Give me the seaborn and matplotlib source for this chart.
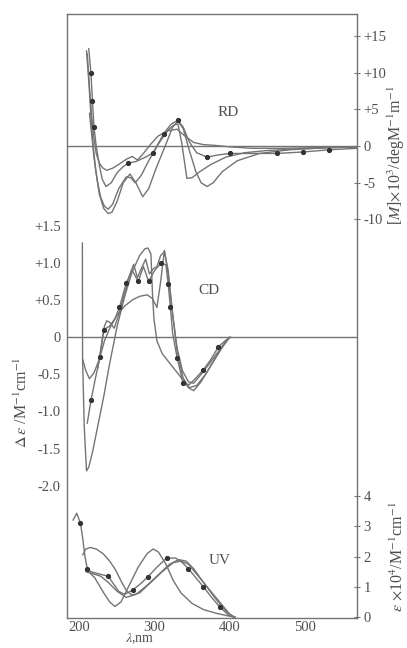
import matplotlib
matplotlib.use("Agg")
import matplotlib.pyplot as plt
import seaborn as sns

# --- RD (optical rotatory dispersion), [M] x 10^3 ---
rd_wl_a = [210, 213, 216, 219, 222, 226, 231, 236, 244, 252, 262, 270, 277, 285, 295, 305, 318, 330, 340, 352, 365, 380, 400, 430, 470, 520, 570]
rd_a = [12.6, 8.0, 4.0, 1.0, -1.0, -2.3, -3.0, -3.3, -3.0, -2.5, -1.8, -1.4, -1.9, -1.0, 0.3, 1.4, 2.1, 2.3, 1.4, 0.5, 0.2, 0.1, -0.1, -0.3, -0.3, -0.2, -0.1]

rd_wl_b = [212, 215, 217, 219, 222, 226, 230, 235, 242, 250, 258, 265, 275, 288, 298, 312, 322, 331, 338, 346, 356, 370, 385, 400, 430, 463, 498, 533, 570]
rd_b = [13.3, 9.9, 6.1, 2.6, 0.0, -2.5, -4.5, -5.5, -5.0, -3.6, -2.8, -2.3, -2.1, -1.5, -0.9, 1.7, 3.0, 3.5, 2.6, 0.6, -0.9, -1.5, -1.2, -1.0, -1.0, -1.0, -0.8, -0.5, -0.3]
rd_b_dots = [1, 2, 3, 11, 14, 15, 17, 21, 23, 25, 26, 27]

rd_wl_c = [213, 216, 219, 223, 228, 233, 238, 244, 252, 262, 268, 274, 282, 292, 305, 318, 326, 331, 336, 343, 350, 360, 375, 395, 420, 450, 490, 540, 570]
rd_c = [4.5, 1.5, -1.5, -4.5, -7.0, -8.2, -8.6, -7.9, -5.8, -4.2, -4.3, -5.0, -4.0, -2.0, 0.3, 2.2, 2.9, 3.0, 0.5, -4.4, -4.3, -3.5, -2.5, -1.5, -0.9, -0.6, -0.4, -0.2, -0.1]

rd_wl_d = [209, 212, 215, 218, 221, 226, 232, 238, 243, 250, 258, 267, 275, 284, 292, 302, 314, 324, 331, 338, 346, 355, 362, 370, 378, 390, 410, 440, 480, 530, 570]
rd_d = [13.0, 9.0, 4.0, 0.0, -3.0, -6.5, -8.5, -9.2, -9.0, -7.5, -5.0, -3.8, -5.0, -6.9, -5.8, -3.0, 0.0, 2.6, 3.4, 2.4, -0.5, -3.5, -5.0, -5.5, -5.0, -3.5, -2.0, -1.0, -0.5, -0.2, -0.1]

# --- CD, delta epsilon ---
cd_wl_a = [204, 208, 213, 219, 226, 233, 240, 250, 260, 270, 280, 290, 297, 303, 308, 313, 318, 324, 330, 337, 345, 352, 362, 375, 388, 400]
cd_a = [-0.3, -0.45, -0.56, -0.48, -0.3, -0.05, 0.12, 0.3, 0.42, 0.5, 0.55, 0.57, 0.52, 0.4, 0.75, 1.17, 0.85, 0.3, -0.15, -0.45, -0.6, -0.62, -0.5, -0.33, -0.15, 0.0]

cd_wl_b = [210, 215, 221, 227, 232, 240, 247, 253, 262, 270, 278, 285, 292, 300, 309, 315, 318, 321, 324, 330, 338, 346, 355, 365, 375, 385, 395, 402]
cd_b = [-1.16, -0.85, -0.55, -0.27, 0.1, 0.15, 0.25, 0.4, 0.73, 0.9, 0.75, 0.95, 0.75, 0.9, 1.0, 0.97, 0.72, 0.4, 0.05, -0.28, -0.62, -0.64, -0.55, -0.44, -0.3, -0.13, -0.04, 0.0]
cd_b_dots = [1, 3, 4, 7, 8, 10, 12, 14, 16, 17, 19, 20, 23, 25]

cd_wl_c = [203.5, 203.8, 206, 209, 212, 217, 224, 232, 240, 250, 260, 270, 280, 287, 291, 295, 297, 299, 303, 310, 320, 332, 345, 352, 362, 375, 388, 400]
cd_c = [1.27, -0.3, -1.2, -1.8, -1.75, -1.55, -1.2, -0.8, -0.35, 0.15, 0.55, 0.88, 1.1, 1.19, 1.2, 1.12, 0.6, 0.25, -0.05, -0.22, -0.35, -0.5, -0.68, -0.72, -0.6, -0.38, -0.17, 0.0]

cd_wl_d = [224, 229, 233, 236, 240, 246, 252, 260, 267, 272, 277, 282, 288, 293, 298, 303, 308, 313, 318, 323, 330, 338, 346, 356, 368, 380, 392, 400]
cd_d = [-0.42, -0.1, 0.15, 0.22, 0.2, 0.12, 0.3, 0.6, 0.85, 0.98, 0.8, 0.92, 1.05, 0.85, 0.92, 0.95, 1.1, 1.15, 0.9, 0.4, -0.2, -0.55, -0.68, -0.65, -0.5, -0.3, -0.1, 0.0]

# --- UV, epsilon x 10^4 ---
uv_wl_a = [191, 196, 201, 204, 207, 210, 215, 222, 230, 238, 245, 252, 260, 271, 281, 291, 303, 316, 328, 337, 345, 355, 365, 376, 387, 398, 405]
uv_a = [3.2, 3.43, 3.1, 2.6, 2.0, 1.6, 1.5, 1.45, 1.4, 1.35, 1.1, 0.85, 0.75, 0.9, 1.1, 1.33, 1.65, 1.95, 1.95, 1.8, 1.6, 1.3, 1.0, 0.65, 0.33, 0.08, 0.0]
uv_a_dots = [2, 5, 9, 13, 15, 17, 20, 22, 24]

uv_wl_b = [204, 208, 214, 222, 231, 240, 248, 256, 263, 270, 280, 295, 310, 325, 335, 345, 360, 375, 390, 400, 407]
uv_b = [2.05, 2.25, 2.3, 2.25, 2.1, 1.85, 1.55, 1.15, 0.85, 0.73, 0.8, 1.15, 1.5, 1.8, 1.85, 1.75, 1.3, 0.85, 0.4, 0.1, 0.0]

uv_wl_c = [210, 220, 232, 240, 247, 255, 265, 278, 290, 298, 305, 315, 325, 335, 350, 365, 383, 400, 408]
uv_c = [1.55, 1.3, 0.8, 0.5, 0.35, 0.5, 1.0, 1.65, 2.1, 2.25, 2.15, 1.75, 1.2, 0.8, 0.45, 0.25, 0.12, 0.03, 0.0]

uv_wl_d = [208, 215, 222, 228, 238, 250, 262, 275, 290, 305, 320, 332, 342, 352, 365, 380, 393, 405]
uv_d = [1.5, 1.45, 1.4, 1.35, 1.15, 0.85, 0.65, 0.75, 1.05, 1.4, 1.75, 1.9, 1.85, 1.6, 1.15, 0.65, 0.25, 0.0]

x_ticks = [200, 300, 400, 500]
rd_ticks = [15, 10, 5, 0, -5, -10]
rd_labels = ["+15", "+10", "+5", "0", "-5", "-10"]
cd_ticks = [1.5, 1.0, 0.5, 0, -0.5, -1.0, -1.5, -2.0]
cd_labels = ["+1.5", "+1.0", "+0.5", "0", "-0.5", "-1.0", "-1.5", "-2.0"]
uv_ticks = [0, 1, 2, 3, 4]
uv_labels = ["0", "1", "2", "3", "4"]

sns.set_style("white")
plt.rcParams['font.family'] = ['Liberation Serif', 'DejaVu Serif']
plt.rcParams['mathtext.fontset'] = 'stix'

ink = '#4f4f4f'
line = '#747474'
W, H = 407, 648

fig = plt.figure(figsize=(W / 100, H / 100), dpi=100)
rect = [67 / W, 1 - 618 / H, 290 / W, 604 / H]

ax_uv = fig.add_axes(rect)
ax_cd = fig.add_axes(rect, sharex=ax_uv)
ax_rd = fig.add_axes(rect, sharex=ax_uv)

for ax in (ax_uv, ax_cd, ax_rd):
    ax.set_facecolor('none')
    ax.set_xlim(183, 570)

# RD curves
for wl, v in [(rd_wl_a, rd_a), (rd_wl_c, rd_c), (rd_wl_d, rd_d)]:
    sns.lineplot(x=wl, y=v, ax=ax_rd, color=line, lw=1.0, sort=False, estimator=None)
sns.lineplot(x=rd_wl_b, y=rd_b, ax=ax_rd, color=line, lw=1.0, sort=False, estimator=None,
             marker='o', markersize=3, markerfacecolor='#333333', markeredgecolor='#333333',
             markevery=rd_b_dots)
ax_rd.axhline(0, color=line, lw=1.0)
ax_rd.set_ylim(-64.3, 18.0)

# CD curves
for wl, v in [(cd_wl_a, cd_a), (cd_wl_c, cd_c), (cd_wl_d, cd_d)]:
    sns.lineplot(x=wl, y=v, ax=ax_cd, color=line, lw=1.0, sort=False, estimator=None)
sns.lineplot(x=cd_wl_b, y=cd_b, ax=ax_cd, color=line, lw=1.0, sort=False, estimator=None,
             marker='o', markersize=3, markerfacecolor='#333333', markeredgecolor='#333333',
             markevery=cd_b_dots)
ax_cd.axhline(0, color=line, lw=1.0)
ax_cd.set_ylim(-3.78, 4.35)

# UV curves
for wl, v in [(uv_wl_b, uv_b), (uv_wl_c, uv_c), (uv_wl_d, uv_d)]:
    sns.lineplot(x=wl, y=v, ax=ax_uv, color=line, lw=1.0, sort=False, estimator=None)
sns.lineplot(x=uv_wl_a, y=uv_a, ax=ax_uv, color=line, lw=1.0, sort=False, estimator=None,
             marker='o', markersize=3, markerfacecolor='#333333', markeredgecolor='#333333',
             markevery=uv_a_dots)
ax_uv.set_ylim(-0.03, 19.93)

# frame on UV axes only
for s in ax_uv.spines.values():
    s.set_visible(True)
    s.set_color(line)
    s.set_linewidth(1.0)
for ax in (ax_cd, ax_rd):
    for s in ax.spines.values():
        s.set_visible(False)

# ticks
ax_uv.set_xticks(x_ticks)
ax_uv.set_xticklabels([str(t) for t in x_ticks])
ax_uv.tick_params(axis='x', direction='in', length=3, color=line, labelsize=10.5,
                  labelcolor=ink, pad=2)
for ax in (ax_cd, ax_rd):
    ax.tick_params(axis='x', bottom=False, labelbottom=False)

ax_uv.yaxis.tick_right()
ax_uv.set_yticks(uv_ticks)
ax_uv.set_yticklabels(uv_labels)
ax_uv.tick_params(axis='y', direction='inout', length=5, color=line, labelsize=10.5,
                  labelcolor=ink, pad=2)

ax_rd.yaxis.tick_right()
ax_rd.set_yticks(rd_ticks)
ax_rd.set_yticklabels(rd_labels)
ax_rd.tick_params(axis='y', direction='inout', length=5, color=line, labelsize=10.5,
                  labelcolor=ink, pad=2)

ax_cd.set_yticks(cd_ticks)
ax_cd.set_yticklabels(cd_labels)
ax_cd.tick_params(axis='y', direction='inout', length=5, color=line, labelsize=10.5,
                  labelcolor=ink, pad=2)

for ax in (ax_uv, ax_cd, ax_rd):
    ax.set_xlabel('')
    ax.set_ylabel('')

# panel names and axis titles
def px(x, y):
    return x / W, 1 - y / H

fig.text(*px(228, 113), "RD", ha='center', va='center', fontsize=11, color=ink)
fig.text(*px(209, 290), "CD", ha='center', va='center', fontsize=11, color=ink)
fig.text(*px(220, 560), "UV", ha='center', va='center', fontsize=11, color=ink)

fig.text(*px(396, 155), r"[$M$]$\times$10$^{3}$/degM$^{-1}$m$^{-1}$", rotation=90,
         ha='center', va='center', fontsize=11.5, color=ink)
fig.text(*px(22, 402), r"$\Delta\,\varepsilon$ /M$^{-1}$cm$^{-1}$", rotation=90,
         ha='center', va='center', fontsize=11.5, color=ink)
fig.text(*px(398, 557), r"$\varepsilon$ $\times$10$^{4}$/M$^{-1}$cm$^{-1}$", rotation=90,
         ha='center', va='center', fontsize=11.5, color=ink)
fig.text(*px(140, 646.5), r"$\lambda$,nm", ha='center', va='bottom', fontsize=10, color=ink)

fig.savefig('out.png', dpi=100)
